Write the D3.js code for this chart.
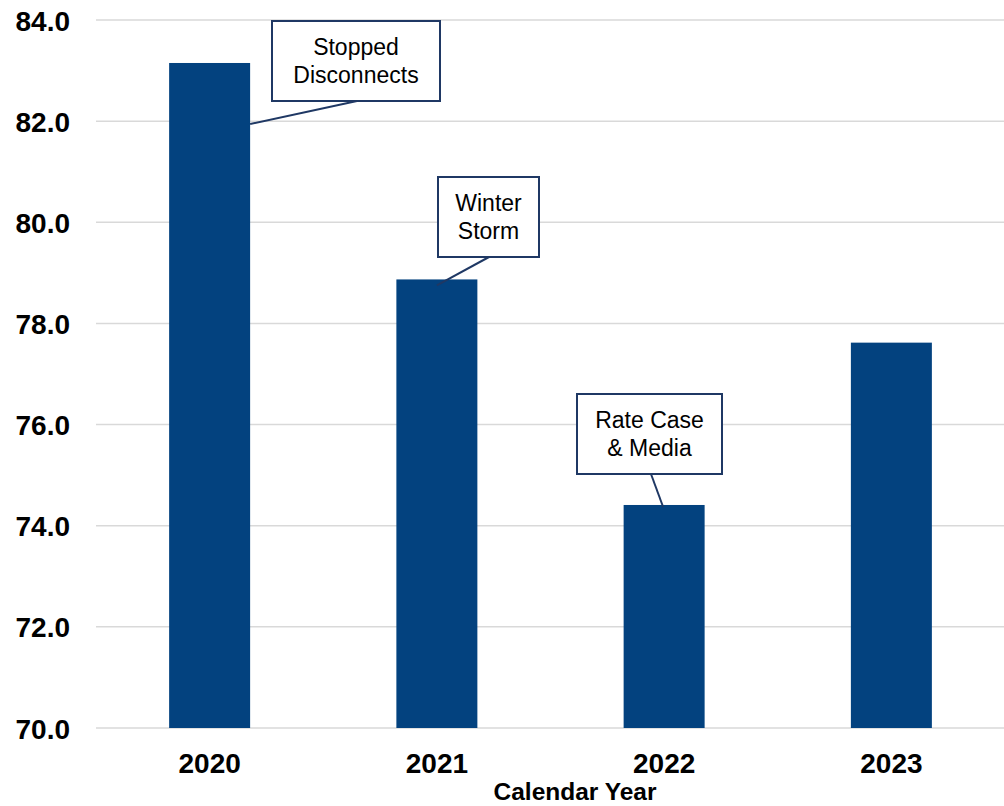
<!DOCTYPE html>
<html>
<head>
<meta charset="utf-8">
<script src="https://cdn.jsdelivr.net/npm/d3@7"></script>
<style>
  html, body { margin: 0; padding: 0; background: #fff; }
  svg { display: block; font-family: "Liberation Sans", Arial, sans-serif; }
</style>
</head>
<body>
<svg id="chart" width="1004" height="806"></svg>
<script>
// ---- data ----
const years = ["2020", "2021", "2022", "2023"];
const values = [83.15, 78.87, 74.41, 77.62];
const yTicks = [70, 72, 74, 76, 78, 80, 82, 84];
const annotationYears = ["2020", "2021", "2022"];
const annotationTexts = [["Stopped", "Disconnects"], ["Winter", "Storm"], ["Rate Case", "& Media"]];
const xAxisTitle = "Calendar Year";

// ---- layout ----
const W = 1004, H = 806;
const plot = { left: 96, right: 1005, top: 20, bottom: 728 };
const barColor = "#03427f";
const gridColor = "#d9d9d9";
const annoColor = "#1f3864";
// box geometry (top-left, size) and connector endpoint offsets relative to bar
const annoLayout = [
  { x: 272, y: 21, w: 168, h: 80, fromX: 357, toSide: "right", toDx: 0, toDy: 61 },
  { x: 438, y: 177, w: 101, h: 80, fromX: 489, toSide: "center", toDx: 0, toDy: 6 },
  { x: 577, y: 394, w: 145, h: 80, fromX: 651, toSide: "center", toDx: -1, toDy: 2 }
];

const svg = d3.select("#chart");

const x = d3.scaleBand()
  .domain(years)
  .range([plot.left, plot.right])
  .paddingInner(0.6436)
  .paddingOuter(0.3218);

const y = d3.scaleLinear()
  .domain([70, 84])
  .range([plot.bottom, plot.top]);

// gridlines
svg.append("g")
  .selectAll("line")
  .data(yTicks)
  .join("line")
  .attr("x1", plot.left)
  .attr("x2", W)
  .attr("y1", d => y(d))
  .attr("y2", d => y(d))
  .attr("stroke", gridColor)
  .attr("stroke-width", 1.5);

// y axis labels
const yAxis = d3.axisLeft(y).tickValues(yTicks).tickFormat(d3.format(".1f")).tickSize(0).tickPadding(0);
const yg = svg.append("g").attr("transform", "translate(70,0)").call(yAxis);
yg.select(".domain").remove();
yg.selectAll("text")
  .attr("font-family", "'Liberation Sans', Arial, sans-serif")
  .attr("font-size", 28)
  .attr("font-weight", "bold")
  .attr("fill", "#000")
  .attr("dy", "0.36em");

// bars
svg.append("g")
  .selectAll("rect")
  .data(years.map((yr, i) => ({ yr, v: values[i] })))
  .join("rect")
  .attr("x", d => x(d.yr))
  .attr("width", x.bandwidth())
  .attr("y", d => y(d.v))
  .attr("height", d => y(70) - y(d.v))
  .attr("fill", barColor);

// x axis labels
const xAxis = d3.axisBottom(x).tickSize(0).tickPadding(0);
const xg = svg.append("g").attr("transform", `translate(0,${plot.bottom})`).call(xAxis);
xg.select(".domain").remove();
xg.selectAll("text")
  .attr("font-family", "'Liberation Sans', Arial, sans-serif")
  .attr("font-size", 28)
  .attr("font-weight", "bold")
  .attr("fill", "#000")
  .attr("dy", null)
  .attr("y", 45);

// axis title
svg.append("text")
  .attr("x", 575)
  .attr("y", 800)
  .attr("text-anchor", "middle")
  .attr("font-size", 24.5)
  .attr("font-weight", "bold")
  .attr("fill", "#000")
  .text(xAxisTitle);

// annotations
annotationYears.forEach((yr, i) => {
  const L = annoLayout[i];
  const v = values[years.indexOf(yr)];
  const bx = L.toSide === "right" ? x(yr) + x.bandwidth() : L.toSide === "left" ? x(yr) : x(yr) + x.bandwidth() / 2;
  const g = svg.append("g");
  g.append("line")
    .attr("x1", L.fromX)
    .attr("y1", L.y + L.h)
    .attr("x2", bx + L.toDx)
    .attr("y2", y(v) + L.toDy)
    .attr("stroke", annoColor)
    .attr("stroke-width", 2);
  g.append("rect")
    .attr("x", L.x)
    .attr("y", L.y)
    .attr("width", L.w)
    .attr("height", L.h)
    .attr("fill", "#fff")
    .attr("stroke", annoColor)
    .attr("stroke-width", 2);
  annotationTexts[i].forEach((t, j) => {
    g.append("text")
      .attr("x", L.x + L.w / 2)
      .attr("y", L.y + 34 + j * 28)
      .attr("text-anchor", "middle")
      .attr("font-size", 23)
      .attr("fill", "#000")
      .text(t);
  });
});
</script>
</body>
</html>
